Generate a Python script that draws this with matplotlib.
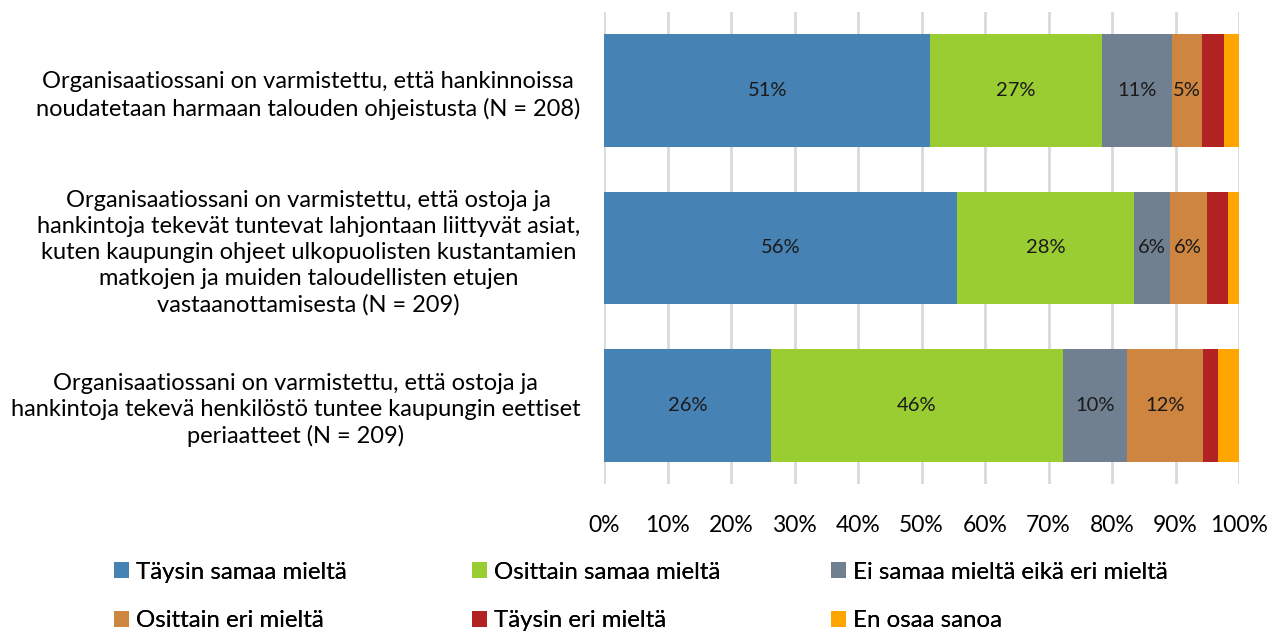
import matplotlib.pyplot as plt
from matplotlib.patches import Patch

plt.rcParams["font.family"] = ["Lato", "DejaVu Sans"]

# Data (percent of respondents)
questions = [
    "Organisaatiossani on varmistettu, että hankinnoissa\nnoudatetaan harmaan talouden ohjeistusta (N = 208)",
    "Organisaatiossani on varmistettu, että ostoja ja\nhankintoja tekevät tuntevat lahjontaan liittyvät asiat,\n"
    "kuten kaupungin ohjeet ulkopuolisten kustantamien\nmatkojen ja muiden taloudellisten etujen\nvastaanottamisesta (N = 209)",
    "Organisaatiossani on varmistettu, että ostoja ja\nhankintoja tekevä henkilöstö tuntee kaupungin eettiset\nperiaatteet (N = 209)",
]
categories = [
    "Täysin samaa mieltä",
    "Osittain samaa mieltä",
    "Ei samaa mieltä eikä eri mieltä",
    "Osittain eri mieltä",
    "Täysin eri mieltä",
    "En osaa sanoa",
]
taysin_samaa = [51.4, 55.6, 26.3]
osittain_samaa = [27.0, 27.8, 46.0]
ei_samaa_eika_eri = [11.0, 5.7, 10.1]
osittain_eri = [4.8, 5.8, 11.9]
taysin_eri = [3.4, 3.3, 2.4]
en_osaa = [2.4, 1.8, 3.3]
series = [taysin_samaa, osittain_samaa, ei_samaa_eika_eri, osittain_eri, taysin_eri, en_osaa]
colours = ["#4682B4", "#9ACD32", "#708090", "#CD853F", "#B22222", "#FFA500"]
xticks = list(range(0, 101, 10))

fig = plt.figure(figsize=(12.85, 6.32), dpi=100)
ax = fig.add_axes([604 / 1285, 1 - 484 / 632, 635 / 1285, 472 / 632])

ypos = [0, 1, 2]
left = [0.0] * len(questions)
for vals, colour in zip(series, colours):
    bars = ax.barh(ypos, vals, left=left, height=0.715, color=colour, zorder=2)
    for rect, v in zip(bars, vals):
        if v >= 4.5:
            ax.text(rect.get_x() + rect.get_width() / 2, rect.get_y() + rect.get_height() / 2,
                    f"{v:.0f}%", ha="center", va="center", fontsize=14.5, color="#1a1a1a", zorder=3)
    left = [a + b for a, b in zip(left, vals)]

ax.set_xlim(0, 100)
ax.set_ylim(2.5, -0.5)
ax.set_xticks(xticks)
ax.set_xticklabels([f"{t}%" for t in xticks], fontsize=16.5)
ax.set_yticks(ypos)
ax.set_yticklabels(questions, fontsize=17, multialignment="center", linespacing=1.3)
ax.tick_params(axis="y", length=0, pad=17)
ax.tick_params(axis="x", length=0, pad=22)
ax.grid(axis="x", color="#d9d9d9", linewidth=2, zorder=0)
for s in ax.spines.values():
    s.set_visible(False)

# legend: three columns, two rows (row-major order as in the original)
handles = [Patch(facecolor=c, label=l) for c, l in zip(colours, categories)]
col_x = [114, 472, 831]
for i, x in enumerate(col_x):
    leg = fig.legend(handles=[handles[i], handles[i + 3]], loc="center left",
                     bbox_to_anchor=(x / 1285, 1 - 596.5 / 632), frameon=False,
                     fontsize=17.3, handlelength=0.63, handleheight=0.63,
                     handletextpad=0.3, labelspacing=1.15, borderpad=0, borderaxespad=0)
    fig.add_artist(leg)

plt.savefig("out.png", dpi=100)
